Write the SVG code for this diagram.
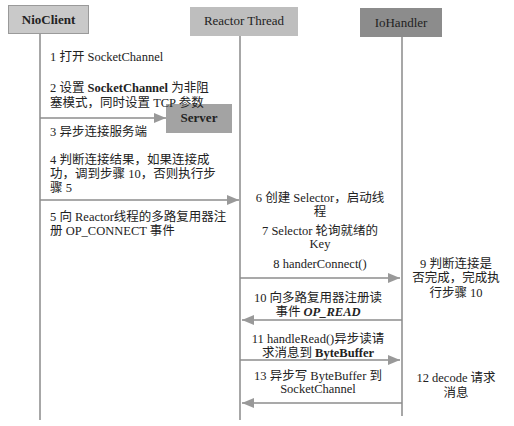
<svg xmlns="http://www.w3.org/2000/svg" width="514" height="426" viewBox="0 0 514 426">
<style>
.t{font-family:"Liberation Serif","Noto Sans CJK SC",serif;font-size:12.5px;fill:#222}
.h{font-family:"Liberation Serif","Noto Sans CJK SC",serif;font-size:13px;font-weight:bold;fill:#222;text-anchor:middle}
.m{text-anchor:middle}
.b{font-weight:bold}
.life{stroke:#8a8a8a;stroke-width:1.5;fill:none}
.arr{stroke:#8c8c8c;stroke-width:1.5;fill:none}
</style>
<defs>
<marker id="ah" markerWidth="12" markerHeight="10" refX="12" refY="5" orient="auto" markerUnits="userSpaceOnUse">
<path d="M0,0 L12,5 L0,10 Z" fill="#999"/>
</marker>
</defs>
<rect width="514" height="426" fill="#fff"/>
<g id="connectors">
<line class="life" x1="40" y1="33" x2="40" y2="420"/>
<line class="life" x1="240" y1="36" x2="240" y2="420"/>
<line class="life" x1="402" y1="37" x2="402" y2="416"/>
<line class="arr" x1="40" y1="118" x2="166" y2="118" marker-end="url(#ah)"/>
<line class="arr" x1="40" y1="200" x2="239" y2="200" marker-end="url(#ah)"/>
<line class="arr" x1="240" y1="278" x2="400" y2="278" marker-end="url(#ah)"/>
<line class="arr" x1="402" y1="320" x2="242" y2="320" marker-end="url(#ah)"/>
<line class="arr" x1="240" y1="360" x2="400" y2="360" marker-end="url(#ah)"/>
<line class="arr" x1="402" y1="403" x2="242" y2="403" marker-end="url(#ah)"/>
</g>
<g id="nioclient">
<rect x="8.5" y="5.5" width="80" height="28" fill="#c9c9c9" stroke="#9a9a9a"/>
<text class="h" x="48.5" y="24">NioClient</text>
</g>
<g id="reactor">
<rect x="190" y="7" width="108" height="29" fill="#bebebe"/>
<text class="h" x="244" y="25" style="font-weight:normal">Reactor Thread</text>
</g>
<g id="iohandler">
<rect x="360" y="8" width="82" height="29" fill="#8c8c8c"/>
<text class="h" x="401" y="27" style="font-weight:normal">IoHandler</text>
</g>
<g id="server">
<rect x="166" y="104" width="66" height="29" fill="#a3a3a3"/>
<text class="h" x="199" y="122">Server</text>
</g>
<g id="labels">
<text class="t" x="50" y="61">1 打开 SocketChannel</text>
<text class="t" x="50" y="92">2 设置 <tspan class="b">SocketChannel</tspan> 为非阻</text>
<text class="t" x="50" y="107">塞模式，同时设置 TCP 参数</text>
<text class="t" x="50" y="136">3 异步连接服务端</text>
<text class="t" x="50" y="164">4 判断连接结果，如果连接成</text>
<text class="t" x="50" y="178">功，调到步骤 10，否则执行步</text>
<text class="t" x="50" y="192">骤 5</text>
<text class="t" x="50" y="221">5 向 Reactor线程的多路复用器注</text>
<text class="t" x="50" y="235">册 OP_CONNECT 事件</text>
<text class="t m" x="320" y="202">6 创建 Selector，启动线</text>
<text class="t m" x="320" y="216">程</text>
<text class="t m" x="320" y="235">7 Selector 轮询就绪的</text>
<text class="t m" x="320" y="248">Key</text>
<text class="t m" x="320" y="268">8 handerConnect()</text>
<text class="t m" x="456" y="268">9 判断连接是</text>
<text class="t m" x="456" y="282">否完成，完成执</text>
<text class="t m" x="456" y="297">行步骤 10</text>
<text class="t m" x="318" y="302">10 向多路复用器注册读</text>
<text class="t m" x="318" y="316">事件 <tspan class="b" font-style="italic">OP_READ</tspan></text>
<text class="t m" x="318" y="343">11 handleRead()异步读请</text>
<text class="t m" x="318" y="357">求消息到 <tspan class="b">ByteBuffer</tspan></text>
<text class="t m" x="318" y="380">13 异步写 ByteBuffer 到</text>
<text class="t m" x="318" y="393">SocketChannel</text>
<text class="t m" x="456" y="382">12 decode 请求</text>
<text class="t m" x="456" y="397">消息</text>
</g>
</svg>
